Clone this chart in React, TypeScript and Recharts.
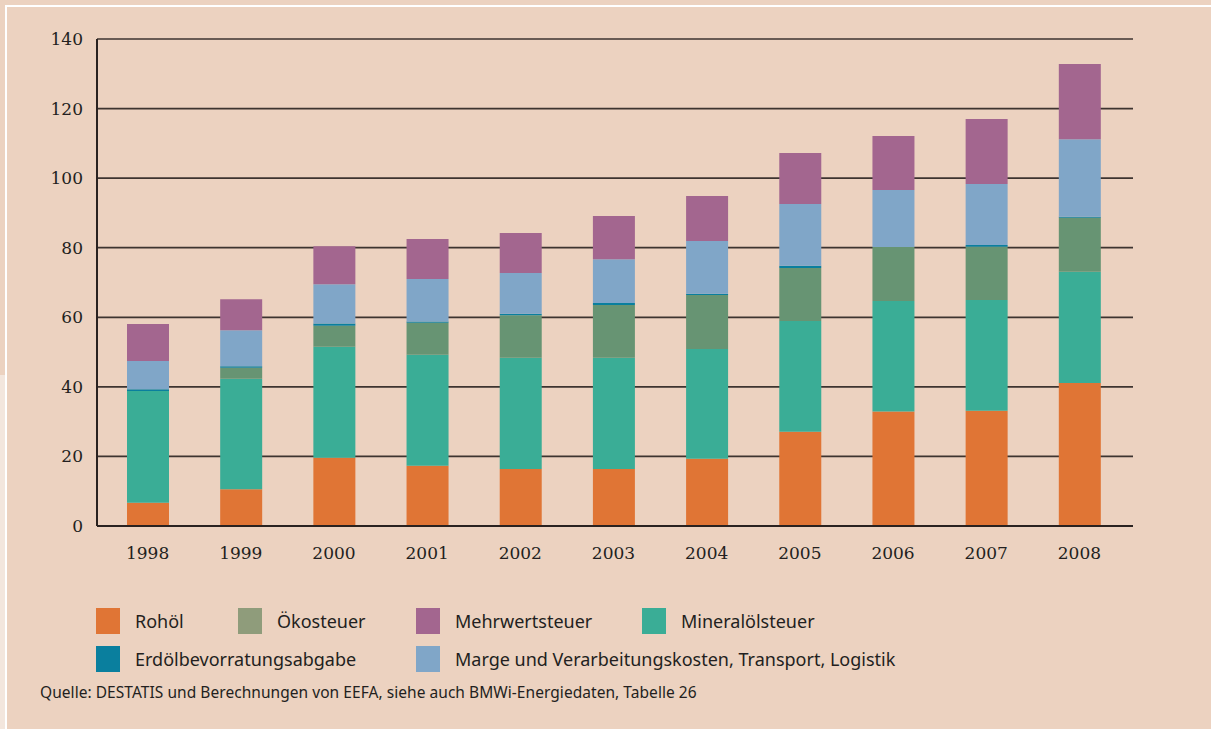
import React from 'react';
import { BarChart, Bar, XAxis, YAxis, CartesianGrid } from 'recharts';

// Benzinpreis-Zusammensetzung, Cent pro Liter
const years = ['1998', '1999', '2000', '2001', '2002', '2003', '2004', '2005', '2006', '2007', '2008'];
const rohoel = [6.7, 10.6, 19.6, 17.3, 16.4, 16.4, 19.3, 27.1, 32.9, 33.1, 41.1];
const mineraloelsteuer = [32.1, 31.7, 31.9, 31.9, 32.0, 32.0, 31.6, 31.8, 31.8, 31.9, 32.0];
const oekosteuer = [0, 3.2, 6.1, 9.2, 12.2, 15.1, 15.5, 15.3, 15.5, 15.3, 15.5];
const erdoelbevorratung = [0.5, 0.4, 0.6, 0.4, 0.4, 0.6, 0.4, 0.6, 0, 0.5, 0.3];
const marge = [8.1, 10.4, 11.3, 12.2, 11.7, 12.6, 15.1, 17.8, 16.4, 17.5, 22.3];
const mehrwertsteuer = [10.7, 8.9, 10.9, 11.5, 11.5, 12.4, 13.0, 14.6, 15.5, 18.7, 21.6];
const yTicks = [0, 20, 40, 60, 80, 100, 120, 140];

const data = years.map((year, i) => ({
    year,
    rohoel: rohoel[i],
    mineraloelsteuer: mineraloelsteuer[i],
    oekosteuer: oekosteuer[i],
    erdoelbevorratung: erdoelbevorratung[i],
    marge: marge[i],
    mehrwertsteuer: mehrwertsteuer[i],
}));

const SERIES = [
    { key: 'rohoel', color: '#e07535' },
    { key: 'mineraloelsteuer', color: '#3aad96' },
    { key: 'oekosteuer', color: '#679473' },
    { key: 'erdoelbevorratung', color: '#0a7f9e' },
    { key: 'marge', color: '#80a6c8' },
    { key: 'mehrwertsteuer', color: '#a3668f' },
];

const LEGEND = [
    { label: 'Rohöl', color: '#e07535', x: 96, y: 608 },
    { label: 'Ökosteuer', color: '#8f9c7b', x: 238, y: 608 },
    { label: 'Mehrwertsteuer', color: '#a3668f', x: 416, y: 608 },
    { label: 'Mineralölsteuer', color: '#3aad96', x: 642, y: 608 },
    { label: 'Erdölbevorratungsabgabe', color: '#0a7f9e', x: 96, y: 646 },
    { label: 'Marge und Verarbeitungskosten, Transport, Logistik', color: '#80a6c8', x: 416, y: 646 },
];

const INK = '#2a2220';
const tickStyle = { fontSize: 17, fill: '#231f20', fontFamily: '"DejaVu Serif", serif' };

export default function App() {
    return (
        <div style={{ position: 'absolute', left: 0, top: 0, width: 1211, height: 729, background: '#ecd2c0', overflow: 'hidden' }}>
            {/* frame */}
            <div style={{ position: 'absolute', left: 5, top: 5, width: 1206, height: 2, background: '#fff' }} />
            <div style={{ position: 'absolute', left: 5, top: 5, width: 2, height: 724, background: '#fff' }} />
            <div style={{ position: 'absolute', left: 0, top: 375, width: 5, height: 354, background: '#f3e6dd' }} />

            <div style={{ position: 'absolute', left: 0, top: 0 }}>
                <BarChart width={1211} height={580} data={data} margin={{ top: 39, right: 78, left: 0, bottom: 14 }}>
                    <CartesianGrid vertical={false} stroke={INK} strokeWidth={1.7} strokeOpacity={0.9} />
                    <XAxis
                        dataKey="year"
                        height={40}
                        padding={{ left: 4, right: 7 }}
                        tickSize={0}
                        tickMargin={21}
                        tick={tickStyle}
                        axisLine={{ stroke: INK, strokeWidth: 2 }}
                        tickLine={false}
                    />
                    <YAxis
                        width={97}
                        domain={[0, 140]}
                        ticks={yTicks}
                        interval={0}
                        tickSize={0}
                        tickMargin={14}
                        tick={tickStyle}
                        axisLine={{ stroke: INK, strokeWidth: 2 }}
                        tickLine={false}
                    />
                    <YAxis
                        yAxisId="right"
                        orientation="right"
                        width={0}
                        domain={[0, 140]}
                        tick={false}
                        tickLine={false}
                        axisLine={{ stroke: INK, strokeWidth: 2 }}
                    />
                    {SERIES.map(s => (
                        <Bar key={s.key} dataKey={s.key} stackId="a" fill={s.color} barSize={42} isAnimationActive={false} />
                    ))}
                </BarChart>
            </div>

            {/* Legend */}
            {LEGEND.map(item => (
                <div key={item.label} style={{ position: 'absolute', left: item.x, top: item.y, display: 'flex', alignItems: 'center' }}>
                    <div style={{ width: 24, height: 26, background: item.color }} />
                    <span style={{ marginLeft: 15, fontSize: 18, color: '#231f20', fontFamily: '"Noto Sans", sans-serif' }}>
                        {item.label}
                    </span>
                </div>
            ))}

            <div style={{ position: 'absolute', left: 40, top: 681, fontSize: 15.5, color: '#231f20', fontFamily: '"Noto Sans", sans-serif', letterSpacing: 0.05 }}>
                Quelle: DESTATIS und Berechnungen von EEFA, siehe auch BMWi-Energiedaten, Tabelle 26
            </div>
        </div>
    );
}
